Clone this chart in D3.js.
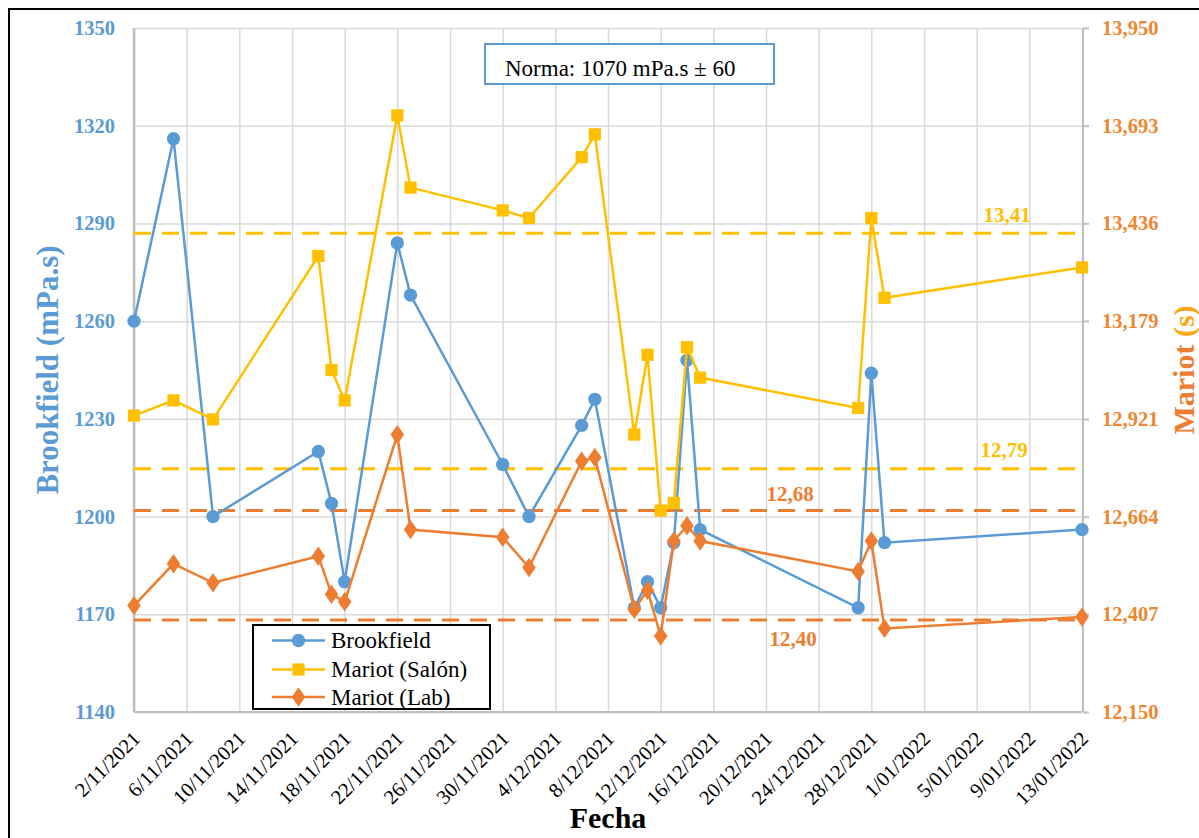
<!DOCTYPE html>
<html><head><meta charset="utf-8">
<script src="https://cdn.jsdelivr.net/npm/d3@7/dist/d3.min.js"></script>
<style>
body{margin:0;background:#fff;}
svg{display:block;}
svg text{font-family:"Liberation Serif","Times New Roman",serif !important;}
</style></head><body>
<svg id="c" width="1199" height="838"></svg>
<script>
// ---- data ----
const dates = ["2/11/2021","5/11/2021","8/11/2021","16/11/2021","17/11/2021","18/11/2021","22/11/2021","23/11/2021","30/11/2021","2/12/2021","6/12/2021","7/12/2021","10/12/2021","11/12/2021","12/12/2021","13/12/2021","14/12/2021","15/12/2021","27/12/2021","28/12/2021","29/12/2021","13/01/2022"];
const brookfield = [1260,1316,1200,1220,1204,1180,1284,1268,1216,1200,1228,1236,1172,1180,1172,1192,1248,1196,1172,1244,1192,1196];
const mariotSalon = [12.93,12.97,12.92,13.35,13.05,12.97,13.72,13.53,13.47,13.45,13.61,13.67,12.88,13.09,12.68,12.70,13.11,13.03,12.95,13.45,13.24,13.32];
const mariotLab = [12.43,12.54,12.49,12.56,12.46,12.44,12.88,12.63,12.61,12.53,12.81,12.82,12.42,12.47,12.35,12.60,12.64,12.60,12.52,12.60,12.37,12.40];
const xTickLabels = ["2/11/2021","6/11/2021","10/11/2021","14/11/2021","18/11/2021","22/11/2021","26/11/2021","30/11/2021","4/12/2021","8/12/2021","12/12/2021","16/12/2021","20/12/2021","24/12/2021","28/12/2021","1/01/2022","5/01/2022","9/01/2022","13/01/2022"];
const leftTicks = [1140,1170,1200,1230,1260,1290,1320,1350];
const rightTicks = [12.150,12.407,12.664,12.921,13.179,13.436,13.693,13.950];
const refValues = [13.41,12.79,12.68,12.392];
const refLabels = ["13,41","12,79","12,68","12,40"];
const refSeries = ["salon","salon","lab","lab"];
const seriesNames = ["Brookfield","Mariot (Salón)","Mariot (Lab)"];
const noteText = "Norma: 1070 mPa.s ± 60";

// ---- setup ----
const parse = d3.utcParse("%d/%m/%Y");
const colors = {brook:"#5B9BD5", salon:"#FFC000", lab:"#ED7D31"};
const svg = d3.select("#c");
const L=134, R=1082, T=28, B=712;
const x = d3.scaleUtc().domain([parse("2/11/2021"), parse("13/01/2022")]).range([L,R]);
const yL = d3.scaleLinear().domain([1140,1350]).range([B,T]);
const yR = d3.scaleLinear().domain([12.15,13.95]).range([B,T]);
const xTicks = xTickLabels.map(parse);
const fmtX = d3.utcFormat("%-d/%m/%Y");

// outer border
svg.append("rect").attr("x",9).attr("y",9).attr("width",1230).attr("height",880)
  .attr("fill","none").attr("stroke","#000").attr("stroke-width",2);

// gridlines
const grid = svg.append("g");
grid.append("g").attr("transform",`translate(0,${B})`)
  .call(d3.axisBottom(x).tickValues(xTicks).tickSize(-(B-T)).tickFormat(""))
  .call(g=>{g.select(".domain").remove(); g.selectAll("line").attr("stroke","#D9D9D9").attr("stroke-width",1.5);});
grid.append("g").attr("transform",`translate(${L},0)`)
  .call(d3.axisLeft(yL).tickValues(leftTicks).tickSize(-(R-L)).tickFormat(""))
  .call(g=>{g.select(".domain").remove(); g.selectAll("line").attr("stroke","#D9D9D9").attr("stroke-width",1.5);});

// axis lines
svg.append("line").attr("x1",L).attr("x2",R).attr("y1",B).attr("y2",B).attr("stroke","#BFBFBF").attr("stroke-width",2);
svg.append("line").attr("x1",L).attr("x2",L).attr("y1",T).attr("y2",B).attr("stroke","#BFBFBF").attr("stroke-width",2.5);
svg.append("line").attr("x1",R+1).attr("x2",R+1).attr("y1",T).attr("y2",B).attr("stroke","#BFBFBF").attr("stroke-width",2);

// left axis labels
const ax1 = svg.append("g").attr("transform",`translate(${L},0)`)
  .call(d3.axisLeft(yL).tickValues(leftTicks).tickSize(0).tickPadding(19).tickFormat(d3.format("d")));
ax1.select(".domain").remove();
ax1.selectAll("text").attr("fill",colors.brook).attr("font-size","20.5px").attr("font-weight","bold");

// right axis
const ax2 = svg.append("g").attr("transform",`translate(${R+1},0)`)
  .call(d3.axisRight(yR).tickValues(rightTicks).tickSize(6).tickPadding(13)
    .tickFormat(d=>d3.format(".3f")(d).replace(".",",")));
ax2.select(".domain").remove();
ax2.selectAll("line").attr("stroke","#BFBFBF").attr("stroke-width",2);
ax2.selectAll("text").attr("fill","#EF8730").attr("font-size","20.5px").attr("font-weight","bold");

// x labels
const ax3 = svg.append("g").attr("transform",`translate(0,${B})`)
  .call(d3.axisBottom(x).tickValues(xTicks).tickSize(0).tickFormat(fmtX));
ax3.select(".domain").remove();
ax3.selectAll("text").attr("fill","#000").attr("font-size","20.5px")
  .attr("text-anchor","end").attr("dy",null).attr("y",null)
  .attr("transform","translate(7,28) rotate(-45)");

// axis titles
svg.append("text").attr("transform","translate(58,370) rotate(-90)").attr("text-anchor","middle")
  .attr("fill",colors.brook).attr("font-size","31px").attr("font-weight","bold").text("Brookfield (mPa.s)");
const rt = svg.append("text").attr("transform","translate(1194,370) rotate(-90)").attr("text-anchor","middle")
  .attr("font-size","30px").attr("font-weight","bold");
rt.append("tspan").attr("fill","#ED7D31").text("Mariot ");
rt.append("tspan").attr("fill","#F9A81A").text("(s)");
svg.append("text").attr("x",608).attr("y",828).attr("text-anchor","middle")
  .attr("font-size","30px").attr("font-weight","bold").attr("fill","#000").text("Fecha");

// reference lines
refValues.forEach((v,i)=>{
  svg.append("line").attr("x1",L).attr("x2",R).attr("y1",yR(v)).attr("y2",yR(v))
    .attr("stroke",colors[refSeries[i]]).attr("stroke-width",3).attr("stroke-dasharray","17,11");
});
const refLabelPos = [[1007,-11],[1004,-12],[790,-10],[793,26]];
refValues.forEach((v,i)=>{
  svg.append("text").attr("x",refLabelPos[i][0]).attr("y",yR(v)+refLabelPos[i][1]).attr("text-anchor","middle")
    .attr("fill",colors[refSeries[i]]).attr("font-size","21px").attr("font-weight","bold").text(refLabels[i]);
});

// series
const pd = dates.map(parse);
function drawSeries(vals, yS, color, shape){
  const pts = vals.map((v,i)=>[x(pd[i]), yS(v)]);
  svg.append("path").attr("d",d3.line()(pts)).attr("fill","none").attr("stroke",color).attr("stroke-width",2.5);
  const sym = d3.symbol().type(shape).size(shape===d3.symbolCircle?140:shape===d3.symbolSquare?150:120);
  svg.append("g").selectAll("path").data(pts).join("path")
    .attr("transform",d=>`translate(${d[0]},${d[1]})${shape===d3.symbolDiamond?" scale(1.15,0.95)":""}`)
    .attr("d",sym()).attr("fill",color);
}
drawSeries(brookfield, yL, colors.brook, d3.symbolCircle);
drawSeries(mariotSalon, yR, colors.salon, d3.symbolSquare);
drawSeries(mariotLab, yR, colors.lab, d3.symbolDiamond);

// note box
svg.append("rect").attr("x",485).attr("y",44).attr("width",289).attr("height",40)
  .attr("fill","#fff").attr("stroke",colors.brook).attr("stroke-width",2);
svg.append("text").attr("x",505).attr("y",76).attr("font-size","23px").attr("fill","#000").text(noteText);

// legend
const lg = svg.append("g");
lg.append("rect").attr("x",253).attr("y",625).attr("width",237).attr("height",84)
  .attr("fill","#fff").attr("stroke","#000").attr("stroke-width",2);
const lgShapes = [d3.symbolCircle,d3.symbolSquare,d3.symbolDiamond];
const lgColors = [colors.brook,colors.salon,colors.lab];
const lgY = [640.5,669.5,697];
seriesNames.forEach((n,i)=>{
  lg.append("line").attr("x1",272).attr("x2",325).attr("y1",lgY[i]).attr("y2",lgY[i])
    .attr("stroke",lgColors[i]).attr("stroke-width",2.5);
  lg.append("path").attr("transform",`translate(298.5,${lgY[i]})${i===2?" scale(1.15,0.95)":""}`)
    .attr("d",d3.symbol().type(lgShapes[i]).size(i===0?140:i===1?150:120)()).attr("fill",lgColors[i]);
  lg.append("text").attr("x",331).attr("y",lgY[i]+7.5).attr("font-size","23px").attr("fill","#000").text(n);
});
</script>
</body></html>
